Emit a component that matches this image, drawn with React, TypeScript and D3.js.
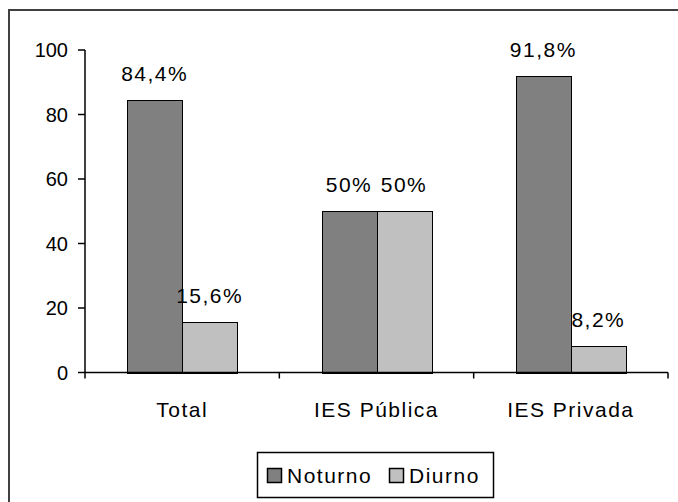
import React from 'react';
import * as d3 from 'd3';

const categories = ['Total', 'IES Pública', 'IES Privada'];
const series = ['Noturno', 'Diurno'];
const noturno = [84.4, 50, 91.8];
const diurno = [15.6, 50, 8.2];
const valueLabels = [
  ['84,4%', '50%', '91,8%'],
  ['15,6%', '50%', '8,2%'],
];
const yTicks = [0, 20, 40, 60, 80, 100];

const W = 678;
const H = 502;
const FONT = '"Liberation Sans", Arial, sans-serif';
const colors = ['#808080', '#c0c0c0'];

export default function App() {
  const values = [noturno, diurno];

  const y = d3.scaleLinear().domain([0, 100]).range([372.5, 50]);
  const x0 = d3.scaleBand<string>().domain(categories).range([85, 668]);
  const x1 = d3
    .scaleBand<string>()
    .domain(series)
    .range([0, x0.bandwidth()])
    .paddingInner(0)
    .paddingOuter(0.767);

  return (
    <svg
      width={W}
      height={H}
      style={{ position: 'absolute', left: 0, top: 0, background: '#fff' }}
      fontFamily={FONT}
    >
      {/* outer frame */}
      <rect x={9} y={10} width={W + 10} height={H + 10} fill="#fff" stroke="#404040" strokeWidth={2} />

      {/* bars */}
      {categories.map((c, i) =>
        series.map((s, j) => {
          const v = values[j][i];
          const bx = (x0(c) ?? 0) + (x1(s) ?? 0);
          return (
            <rect
              key={c + s}
              x={Math.round(bx) + 0.5}
              y={Math.round(y(v)) + 0.5}
              width={Math.round(x1.bandwidth())}
              height={Math.round(y(0)) - Math.round(y(v))}
              fill={colors[j]}
              stroke="#000"
              strokeWidth={1}
            />
          );
        })
      )}

      {/* value labels */}
      {categories.map((c, i) =>
        series.map((s, j) => {
          const v = values[j][i];
          const bx = (x0(c) ?? 0) + (x1(s) ?? 0) + x1.bandwidth() / 2;
          return (
            <text
              key={'l' + c + s}
              x={bx}
              y={y(v) - 19}
              textAnchor="middle"
              fontSize={21}
              letterSpacing={1.5}
              fill="#000"
            >
              {valueLabels[j][i]}
            </text>
          );
        })
      )}

      {/* axes */}
      <g stroke="#000" strokeWidth={1.5}>
        <line x1={85} x2={85} y1={y(100)} y2={y(0)} />
        {yTicks.map((t) => (
          <line key={t} x1={78} x2={85} y1={y(t)} y2={y(t)} />
        ))}
        <line x1={85} x2={668} y1={y(0)} y2={y(0)} />
        {[...categories.map((c) => x0(c) ?? 0), 668].map((tx, k) => (
          <line key={k} x1={tx} x2={tx} y1={y(0)} y2={y(0) + 6} />
        ))}
      </g>
      {yTicks.map((t) => (
        <text
          key={'t' + t}
          x={68}
          y={y(t)}
          dy="0.36em"
          textAnchor="end"
          fontSize={20}
          fill="#000"
        >
          {t}
        </text>
      ))}

      {/* category labels */}
      {categories.map((c) => (
        <text
          key={'c' + c}
          x={(x0(c) ?? 0) + x0.bandwidth() / 2}
          y={417}
          textAnchor="middle"
          fontSize={21}
          letterSpacing={1.5}
          fill="#000"
        >
          {c}
        </text>
      ))}

      {/* legend */}
      <rect x={257.5} y={452.5} width={236} height={45} fill="#fff" stroke="#000" strokeWidth={1.5} />
      {series.map((s, j) => {
        const lx = j === 0 ? 267 : 389;
        return (
          <g key={'lg' + s}>
            <rect x={lx + 0.5} y={468.5} width={14} height={14} fill={colors[j]} stroke="#000" strokeWidth={1.5} />
            <text x={lx + 20} y={483} fontSize={21} letterSpacing={1.5} fill="#000">
              {s}
            </text>
          </g>
        );
      })}
    </svg>
  );
}
